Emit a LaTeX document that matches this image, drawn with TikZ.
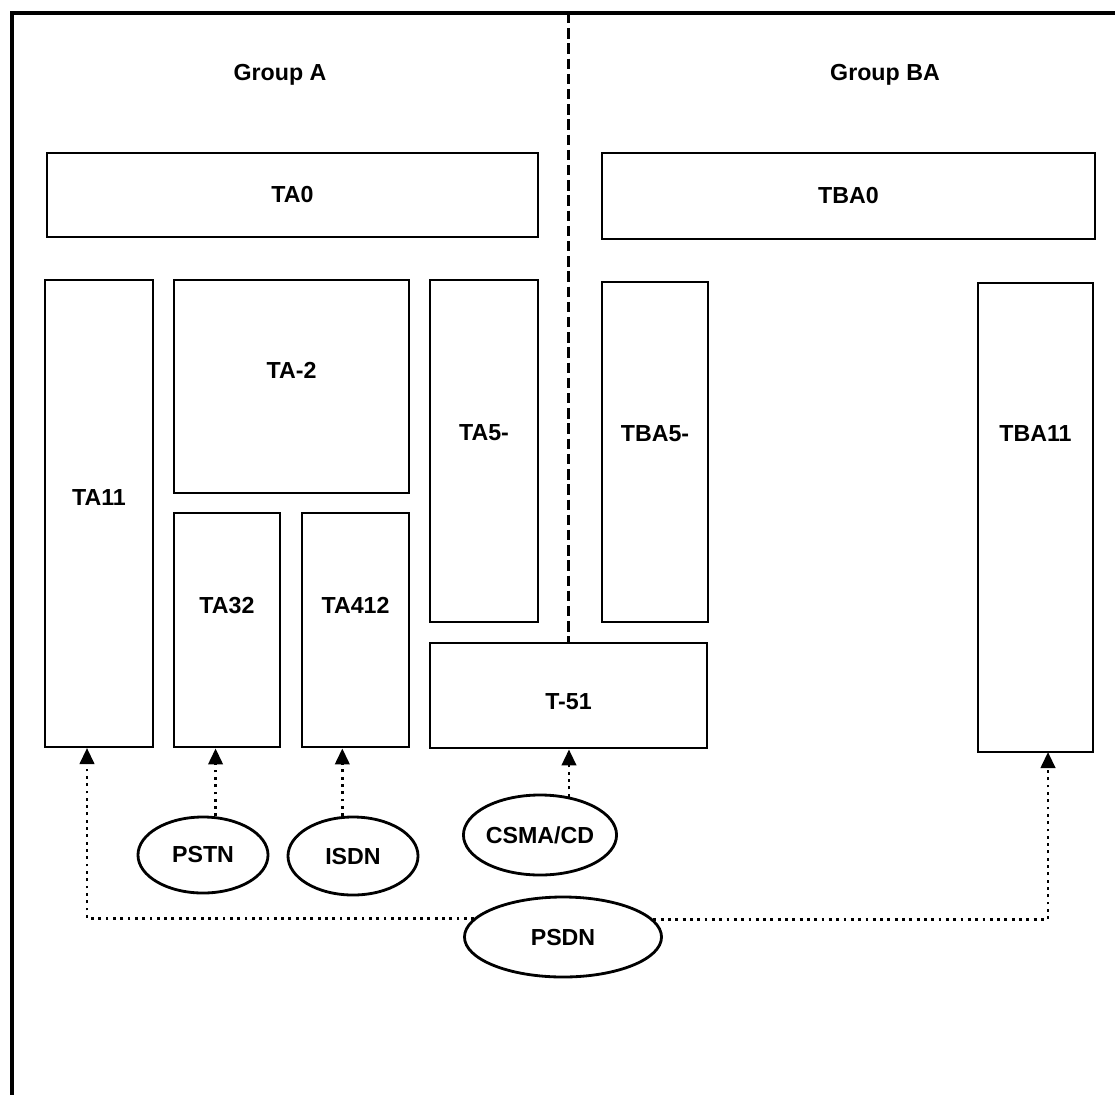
\documentclass[tikz,border=0pt]{standalone}
\usepackage{fontspec}
\setmainfont{Liberation Sans}
\usetikzlibrary{arrows.meta, positioning, shapes.geometric}

\begin{document}
\begin{tikzpicture}[
    x=0.025cm, y=-0.025cm,
    font=\fontsize{16.5}{19}\selectfont\bfseries,
    block/.style={draw, rectangle, line width=2pt, inner sep=0pt},
    net/.style={draw, ellipse, line width=2pt, inner sep=0pt},
    link/.style={line width=2pt, dash pattern=on 2pt off 3.2pt, -{Triangle[length=0.4cm, width=0.36cm]}},
    divider/.style={line width=1.8pt, dash pattern=on 0.26cm off 0.12cm},
    frame/.style={line width=3.4pt}
]
    \useasboundingbox (0,0) rectangle (1115,1097);

    % outer frame (top and left edge only)
    \coordinate (fnw) at (12,13);
    \draw[frame] (1115,13) -- (fnw) -- (12,1095);

    % group headings
    \node (grpA) at (280,75) {Group A};
    \node (grpB) at (885,75) {Group BA};

    % group A
    \node[block, minimum width=12.275cm, minimum height=2.1cm] (ta0) at (292.5,195) {TA0};
    \node[block, minimum width=2.7cm, minimum height=11.675cm,
          label={[yshift=0.41cm]center:TA11}] (ta11) at (99,513.5) {};
    \node[block, minimum width=5.875cm, minimum height=5.325cm,
          label={[yshift=0.41cm]center:TA-2}] (ta2) at (291.5,386.5) {};
    \node[block, minimum width=2.65cm, minimum height=5.85cm,
          label={[yshift=0.62cm]center:TA32}] (ta32) at (227,630) {};
    \node[block, minimum width=2.675cm, minimum height=5.85cm,
          label={[yshift=0.62cm]center:TA412}] (ta412) at (355.5,630) {};
    \node[block, minimum width=2.7cm, minimum height=8.55cm,
          label={[yshift=0.45cm]center:TA5-}] (ta5) at (484,451) {};
    \node[block, minimum width=6.925cm, minimum height=2.625cm,
          label={[yshift=-0.16cm]center:T-51}] (t51) at (568.5,695.5) {};

    % group BA
    \node[block, minimum width=12.325cm, minimum height=2.15cm] (tba0) at (848.5,196) {TBA0};
    \node[block, minimum width=2.65cm, minimum height=8.5cm,
          label={[yshift=0.47cm]center:TBA5-}] (tba5) at (655,452) {};
    \node[block, minimum width=2.875cm, minimum height=11.725cm,
          label={[yshift=2.11cm]center:TBA11}] (tba11) at (1035.5,517.5) {};

    % group border
    \draw[divider] (fnw -| t51.north) -- (t51.north);

    % networks
    \node[net, minimum width=3.25cm, minimum height=1.9cm] (pstn) at (203,855) {PSTN};
    \node[net, minimum width=3.25cm, minimum height=1.95cm] (isdn) at (353,856) {ISDN};
    \node[net, minimum width=3.75cm, minimum height=2cm] (csma) at (540,835) {CSMA/CD};
    \node[net, minimum width=4.925cm, minimum height=2cm] (psdn) at (563,937) {PSDN};

    \coordinate (ta11in) at (87,748);
    \coordinate (tba11in) at (1048,752);

    \draw[link] (pstn.72) -- (pstn.72 |- ta32.south);
    \draw[link] (isdn.105) -- (isdn.105 |- ta412.south);
    \draw[link] (csma.53) -- (csma.53 |- t51.south);
    \draw[link] (psdn.168.4) -| (ta11in);
    \draw[link] (psdn.11.6) -| (tba11in);
\end{tikzpicture}
\end{document}
